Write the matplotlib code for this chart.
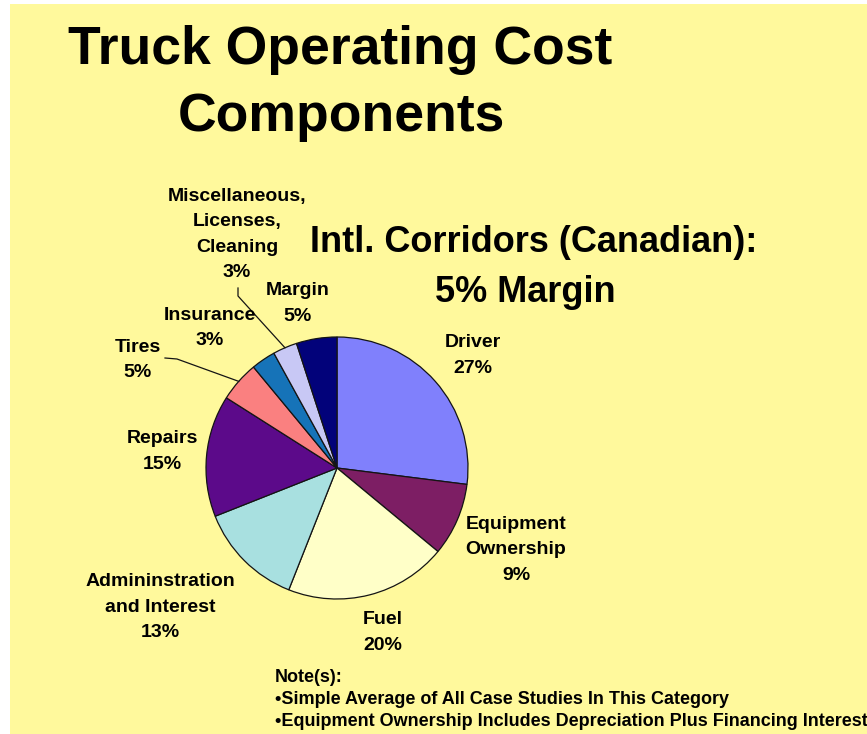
import numpy as np
import matplotlib
matplotlib.use("Agg")
import matplotlib.pyplot as plt
from matplotlib.patches import Rectangle

# Cost components (share of total operating cost, %)
categories = ["Driver", "Equipment\nOwnership", "Fuel", "Admininstration\nand Interest",
              "Repairs", "Tires", "Insurance", "Miscellaneous,\nLicenses,\nCleaning", "Margin"]
shares = [27, 9, 20, 13, 15, 5, 3, 3, 5]
colors = ["#8080FC", "#7D1E64", "#FFFFC8", "#A8E0E0", "#5C0A8A",
          "#FA8080", "#1673B8", "#C8C8F5", "#02027A"]

title_lines = ["Truck Operating Cost", "Components"]
subtitle_lines = ["Intl. Corridors (Canadian):", "5% Margin"]
notes = ["Note(s):",
         "\u2022Simple Average of All Case Studies In This Category",
         "\u2022Equipment Ownership Includes Depreciation Plus Financing Interest"]

W, H = 867, 734
BG = "#FFF99C"
FONT = "Liberation Sans"


def Y(y):
    """Convert a top-down pixel row into the axes' y-up coordinate."""
    return H - y


fig = plt.figure(figsize=(W / 100, H / 100), dpi=100, facecolor="white")
fig.patches.append(Rectangle((10 / W, 0), 1, 1 - 4 / H, transform=fig.transFigure,
                             facecolor=BG, edgecolor="none", zorder=-10))
ax = fig.add_axes([0, 0, 1, 1])
ax.set_facecolor("none")
ax.set_zorder(1)

cx, cy, R = 337, Y(468), 131
wedges, _ = ax.pie(shares, colors=colors, startangle=90, counterclock=False,
                   center=(cx, cy), radius=R,
                   wedgeprops=dict(edgecolor="#141414", linewidth=0.9))
ax.set_xlim(0, W)
ax.set_ylim(0, H)
ax.set_aspect("equal")
ax.axis("off")

# Titles
ax.text(340, Y(64), title_lines[0], ha="center", va="baseline", fontsize=38.5,
        fontweight="bold", family=FONT)
ax.text(341, Y(131), title_lines[1], ha="center", va="baseline", fontsize=38.5,
        fontweight="bold", family=FONT)
ax.text(534, Y(252), subtitle_lines[0], ha="center", va="baseline", fontsize=26,
        fontweight="bold", family=FONT)
ax.text(525, Y(302), subtitle_lines[1], ha="center", va="baseline", fontsize=26,
        fontweight="bold", family=FONT)

# Data labels: block centres for each slice label
label_pos = [(473, 355.5), (516, 550), (383, 632.5), (160, 607), (162, 451.5),
             (138, 360), (210, 328), (237, 234.5), (298, 303.5)]
for name, val, (lx, ly) in zip(categories, shares, label_pos):
    ax.text(lx, Y(ly), f"{name}\n{val}%", ha="center", va="center",
            multialignment="center", fontsize=14, fontweight="bold",
            family=FONT, linespacing=1.65)


def wedge_mid(w):
    a = np.deg2rad((w.theta1 + w.theta2) / 2)
    return cx + R * np.cos(a), cy + R * np.sin(a)


# Leader lines for the small slices
leaders = {7: [(238, 288), (238, 296)], 5: [(165, 358), (177, 359)]}
for idx, pts in leaders.items():
    mx, my = wedge_mid(wedges[idx])
    xs = [p[0] for p in pts] + [mx]
    ys = [Y(p[1]) for p in pts] + [my]
    ax.plot(xs, ys, color="#141414", linewidth=0.9)

# Notes
for i, line in enumerate(notes):
    ax.text(275, Y(678 + i * 22), line, ha="left", va="center", fontsize=13,
            fontweight="bold", family=FONT)

fig.savefig("out.png", dpi=100, facecolor=fig.get_facecolor())
